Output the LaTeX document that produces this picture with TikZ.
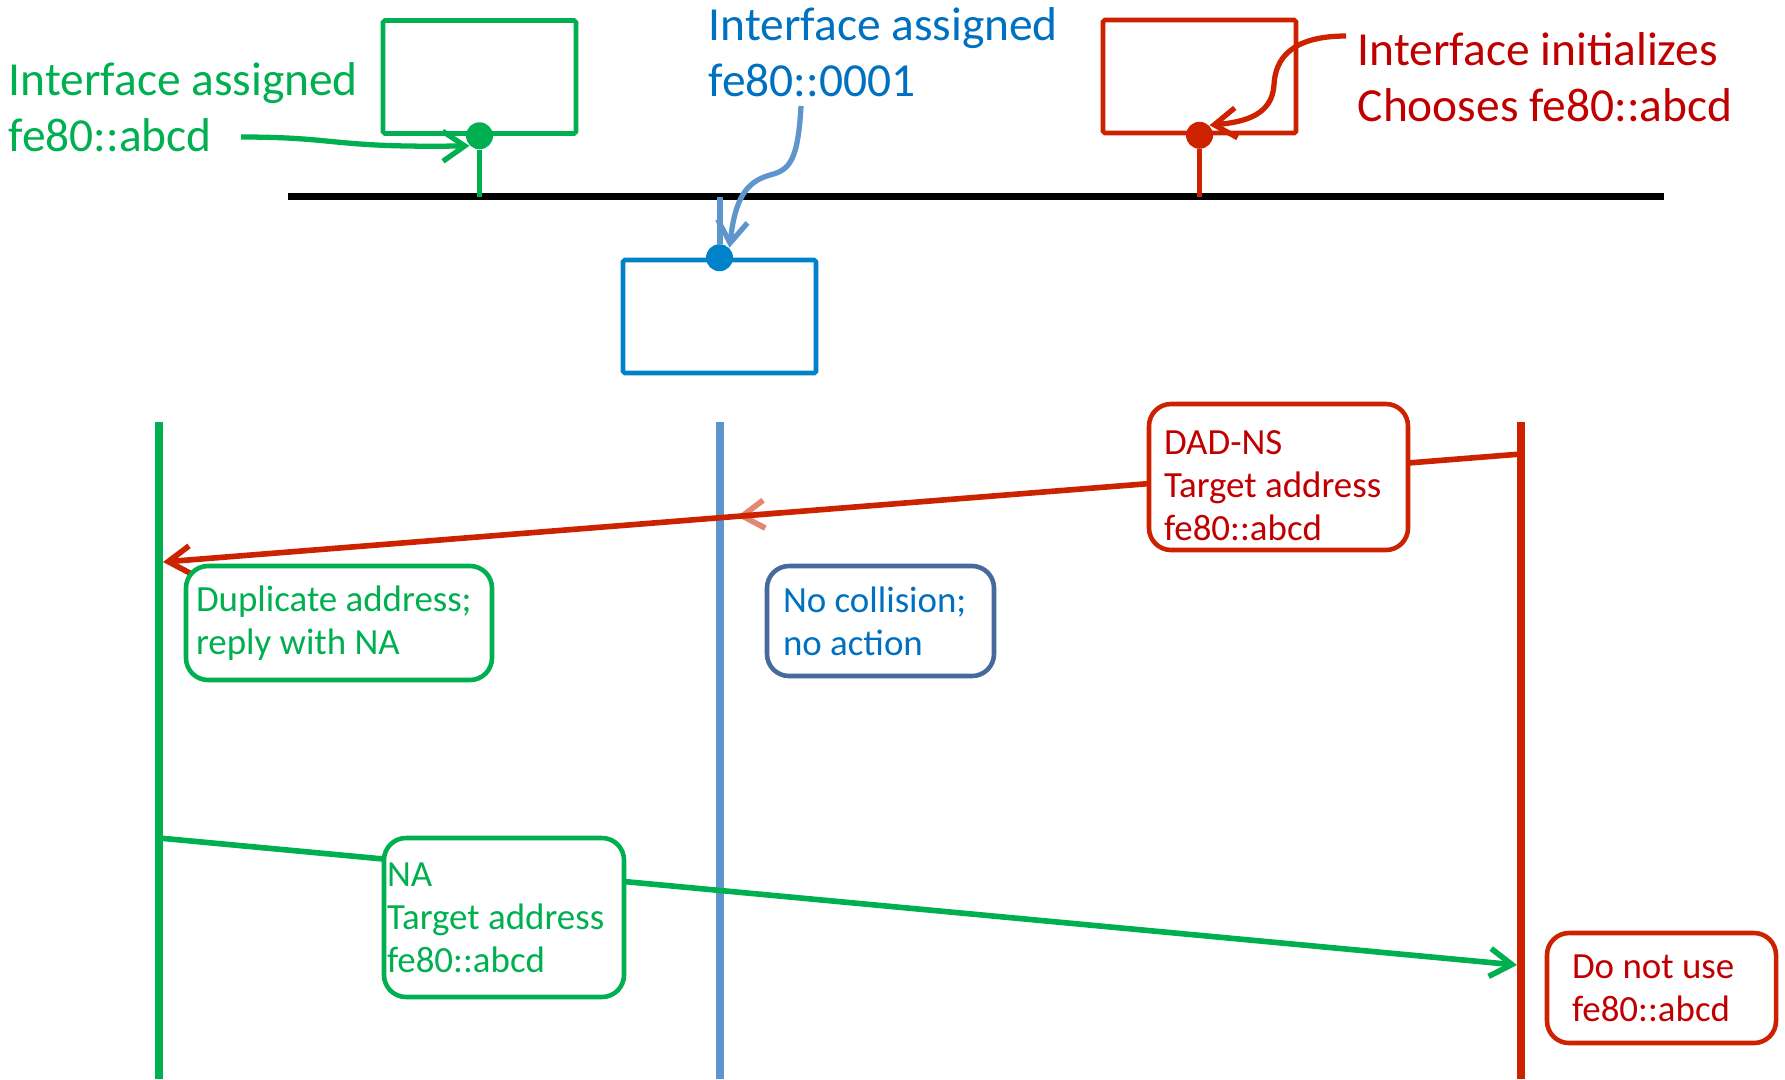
\documentclass[tikz,border=0pt]{standalone}
\usepackage{fontspec}
\setmainfont{Carlito}
\usepackage{tikz}
\usetikzlibrary{arrows.meta,positioning,calc}

\definecolor{dadgreen}{HTML}{00B050}
\definecolor{dadred}{HTML}{CC2200}
\definecolor{dadredtext}{HTML}{C00000}
\definecolor{dadblue}{HTML}{0082CA}
\definecolor{dadbluetext}{HTML}{0070C0}
\definecolor{dadsteel}{HTML}{5E95CC}
\definecolor{dadslate}{HTML}{456A9B}

\begin{document}
\begin{tikzpicture}[
  host/.style={draw, line width=1.3pt, minimum width=1.93cm, minimum height=1.13cm, rounded corners=0.5pt, inner sep=0pt},
  iface/.style={circle, fill, inner sep=0pt, minimum size=0.27cm},
  biglabel/.style={align=left, inner sep=0pt, font=\fontsize{13.5}{15.9}\selectfont},
  msgbox/.style 2 args={draw=#1, text=#2, fill=white, line width=1.3pt, rounded corners=0.22cm, align=flush left, inner ysep=0pt, font=\fontsize{10.5}{12.2}\selectfont},
  lifeline/.style={line width=2.3pt},
  msg/.style={line width=1.6pt, -{Straight Barb[length=2.2mm,width=2.8mm]}},
  callout/.style={line width=1.5pt, -{Straight Barb[length=2.2mm,width=3mm]}}
]
\useasboundingbox (0,0) rectangle (17.85,-10.79);

% Hosts on the link
\node[host, draw=dadgreen] (hostA) at (4.795,-0.77) {};
\node[host, draw=dadblue] (hostB) at (7.195,-3.165) {};
\node[host, draw=dadred] (hostC) at (11.995,-0.765) {};

% Bus
\coordinate (busL) at (2.88,-1.965);
\coordinate (busR) at (16.64,-1.965);
\draw[line width=2pt] (busL) -- (busR);

% Interfaces
\node[iface, dadgreen] (ifA) at (hostA.south) {};
\node[iface, dadblue] (ifB) at (hostB.north) {};
\node[iface, dadred] (ifC) at (hostC.south) {};
\draw[dadgreen, line width=1.5pt] (ifA.south) -- (ifA.south |- busL);
\draw[dadsteel, line width=1.7pt] (ifB.north) -- (ifB.north |- busL);
\draw[dadred, line width=1.5pt] (ifC.south) -- (ifC.south |- busL);

% Labels and callouts
\node[biglabel, text=dadgreen, anchor=west] (lblA) at (0.08,-1.075) {Interface assigned\\fe80::abcd};
\node[biglabel, text=dadbluetext, anchor=west] (lblB) at (7.08,-0.525) {Interface assigned\\fe80::0001};
\node[biglabel, text=dadredtext, anchor=west] (lblC) at (13.57,-0.77) {Interface initializes\\Chooses fe80::abcd};

\coordinate (tailA) at (2.41,-1.37);
\coordinate (tailB) at (8.01,-1.06);
\coordinate (tailC) at (13.46,-0.36);
\draw[callout, dadgreen] (tailA) .. controls (3.40,-1.37) and (3.30,-1.48) .. (ifA.south west);
\draw[callout, dadsteel] (tailB) .. controls (7.98,-1.60) and (7.90,-1.70) .. (7.70,-1.75) .. controls (7.45,-1.82) and (7.35,-2.00) .. (ifB.north east);
\draw[callout, dadred] (tailC) .. controls (12.90,-0.36) and (12.75,-0.60) .. (12.74,-0.85) .. controls (12.72,-1.15) and (12.45,-1.22) .. (ifC.north east);

% Lifelines
\coordinate (gTop) at (1.59,-4.22);
\coordinate (gBot) at (1.59,-10.79);
\coordinate (bTop) at (7.20,-4.22);
\coordinate (bBot) at (7.20,-10.79);
\coordinate (rTop) at (15.21,-4.22);
\coordinate (rBot) at (15.21,-10.79);
\draw[lifeline, dadgreen] (gTop) -- (gBot);
\draw[lifeline, dadsteel] (bTop) -- (bBot);
\draw[lifeline, dadred] (rTop) -- (rBot);

% Messages
\coordinate (nsFrom) at (15.21,-4.54);
\coordinate (nsTo) at (1.63,-5.62);
\draw[msg, dadred] (nsFrom) -- (nsTo);
\draw[msg, dadred, opacity=0.55] ($(nsFrom)!0.545!(nsTo)$) -- ($(nsFrom)!0.5773!(nsTo)$);

\coordinate (naFrom) at (1.59,-8.38);
\coordinate (naTo) at (15.17,-9.65);
\draw[msg, dadgreen] (naFrom) -- (naTo);

% Boxes
\node[msgbox={dadred}{dadredtext}, minimum height=1.46cm, text width=2.29cm, inner xsep=0.15cm] (nsBox) at (12.785,-4.77) {\rule{0pt}{11.8pt}DAD-NS\\Target address\\fe80::abcd};
\node[msgbox={dadgreen}{dadgreen}, minimum height=1.14cm, text width=2.86cm, inner xsep=0.10cm] (dupBox) at (3.39,-6.23) {Duplicate address;\\reply with NA};
\node[msgbox={dadslate}{dadbluetext}, minimum height=1.10cm, text width=1.95cm, inner xsep=0.16cm] (ncBox) at (8.805,-6.21) {No collision;\\no action};
\node[msgbox={dadgreen}{dadgreen}, minimum height=1.59cm, text width=2.34cm, inner xsep=0.03cm] (naBox) at (5.04,-9.175) {NA\\Target address\\fe80::abcd};
\node[msgbox={dadred}{dadredtext}, minimum height=1.10cm, text width=1.79cm, inner xsep=0.25cm] (dnBox) at (16.615,-9.88) {Do not use\\fe80::abcd};
\end{tikzpicture}
\end{document}
